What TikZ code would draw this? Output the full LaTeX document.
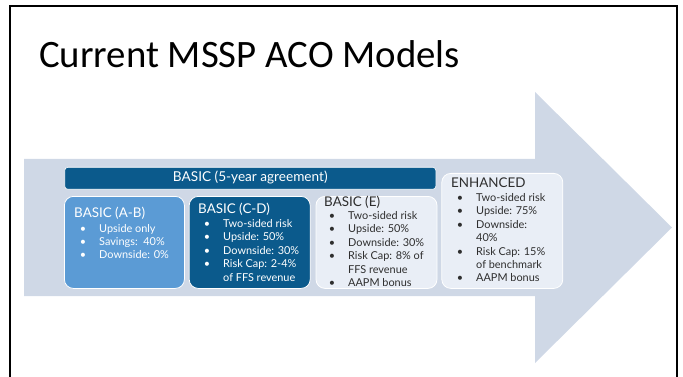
\documentclass[tikz,border=0pt]{standalone}
\usepackage{fontspec}
\setmainfont{Lato}
\newfontfamily\titlefont{Carlito}
\usetikzlibrary{positioning}

\definecolor{arrowgray}{HTML}{CFD8E6}
\definecolor{deepblue}{HTML}{0B5A8C}
\definecolor{midblue}{HTML}{5B9BD5}
\definecolor{paleblue}{HTML}{E9EEF6}
\definecolor{inkgray}{HTML}{2E2E2E}

\newcommand\blist[1]{\begin{tabular}[t]{@{}l@{}}#1\end{tabular}}
\newcommand\bitem{\llap{\textbullet\hspace{13pt}}}

\begin{document}
\begin{tikzpicture}[
        x=1pt, y=-1pt,
        box/.style={draw=white, line width=0.8pt, rounded corners=9pt, minimum width=121pt, minimum height=92pt, inner sep=0pt},
        head/.style={anchor=base west, inner sep=0pt, font=\fontsize{13.4}{16}\selectfont},
        items/.style={anchor=base west, inner sep=0pt, font=\fontsize{10.9}{13.5}\selectfont}
    ]
    \useasboundingbox (0,0) rectangle (683,377);

    % Slide frame
    \draw[line width=2pt] (9.5,377) |- (677,6) -- (677,377);

    % Title
    \node[anchor=base west, inner sep=0pt, font=\titlefont\fontsize{38.8}{42}\selectfont] (title) at (39,68) {Current MSSP ACO Models};

    % Big arrow
    \fill[arrowgray] (24,159) -- (535,159) -- (535,92) -- (672,227.5) -- (535,363) -- (535,296) -- (24,296) -- cycle;

    % Banner
    \node[draw=white, line width=0.6pt, fill=deepblue, rounded corners=3pt, anchor=north west, minimum width=371pt, minimum height=22pt, inner sep=0pt] (banner) at (64.5,167) {};
    \node[font=\fontsize{13.6}{16}\selectfont, text=white, anchor=base, inner sep=0pt] (bannertxt) at (banner.center |- 0,181.5) {BASIC (5-year agreement)};

    % Model boxes
    \node[box, fill=midblue, minimum width=120pt, anchor=north west] (boxAB) at (64,196) {};
    \node[box, fill=deepblue, right=4pt of boxAB] (boxCD) {};
    \node[box, fill=paleblue, right=5pt of boxCD] (boxE) {};
    \node[box, fill=paleblue, minimum height=115pt, right=4pt of boxE.south east, anchor=south west] (boxEnh) {};

    % Box texts
    \node[head, text=white] (headAB) at (74,217) {BASIC (A-B)};
    \node[items, text=white] (listAB) at (99,232) {\blist{\bitem Upside only\\ \bitem Savings:\ \ 40\%\\ \bitem Downside: 0\%}};

    \node[head, text=white] (headCD) at (198,213) {BASIC (C-D)};
    \node[items, text=white] (listCD) at (223,227) {\blist{\bitem Two-sided risk\\ \bitem Upside: 50\%\\ \bitem Downside: 30\%\\ \bitem Risk Cap: 2-4\%\\ of FFS revenue}};

    \node[head, text=inkgray] (headE) at (324,206) {BASIC (E)};
    \node[items, text=inkgray] (listE) at (348,219) {\blist{\bitem Two-sided risk\\ \bitem Upside: 50\%\\ \bitem Downside: 30\%\\ \bitem Risk Cap: 8\% of\\ FFS revenue\\ \bitem AAPM bonus}};

    \node[head, text=inkgray] (headEnh) at (451,187) {ENHANCED};
    \node[items, text=inkgray] (listEnh) at (476,201) {\blist{\bitem Two-sided risk\\ \bitem Upside: 75\%\\ \bitem Downside:\\ 40\%\\ \bitem Risk Cap: 15\%\\ of benchmark\\ \bitem AAPM bonus}};

\end{tikzpicture}
\end{document}
